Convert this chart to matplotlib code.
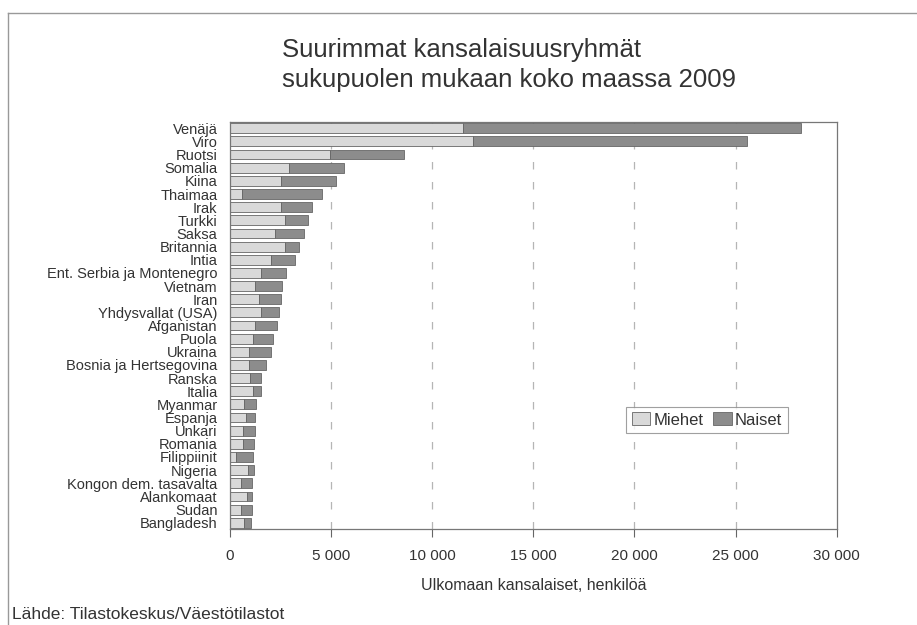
import matplotlib
matplotlib.use("Agg")
import matplotlib.pyplot as plt
from matplotlib.ticker import FuncFormatter

# Kansalaisuudet (ylhäältä alas)
maat = ["Venäjä", "Viro", "Ruotsi", "Somalia", "Kiina", "Thaimaa", "Irak",
        "Turkki", "Saksa", "Britannia", "Intia", "Ent. Serbia ja Montenegro",
        "Vietnam", "Iran", "Yhdysvallat (USA)", "Afganistan", "Puola",
        "Ukraina", "Bosnia ja Hertsegovina", "Ranska", "Italia", "Myanmar",
        "Espanja", "Unkari", "Romania", "Filippiinit", "Nigeria",
        "Kongon dem. tasavalta", "Alankomaat", "Sudan", "Bangladesh"]

miehet = [11500, 12000, 4950, 2940, 2520, 610, 2520, 2740, 2240, 2720, 2030,
          1520, 1240, 1450, 1520, 1250, 1140, 940, 920, 990, 1140, 680,
          810, 660, 660, 280, 890, 550, 840, 550, 710]

naiset = [16750, 13550, 3650, 2700, 2730, 3960, 1520, 1120, 1440, 680, 1190,
          1250, 1350, 1070, 890, 1060, 970, 1070, 860, 540, 380, 620,
          440, 560, 530, 880, 280, 560, 270, 560, 310]

xtikit = [0, 5000, 10000, 15000, 20000, 25000, 30000]

plt.rcParams["font.family"] = ["Liberation Sans", "DejaVu Sans"]
teksti = "#333333"

fig = plt.figure(figsize=(9.17, 6.25), dpi=100)
ax = fig.add_axes([0.2508, 0.1531, 0.6616, 0.6522])

y = list(range(len(maat)))
ax.barh(y, miehet, height=0.75, color="#d9d9d9", edgecolor="#666666",
        linewidth=0.6, label="Miehet")
ax.barh(y, naiset, left=miehet, height=0.75, color="#8c8c8c",
        edgecolor="#666666", linewidth=0.6, label="Naiset")

ax.set_xlim(0, 30000)
ax.set_ylim(len(maat) - 0.5, -0.5)
ax.set_yticks(y)
ax.set_yticklabels(maat, fontsize=10.5, color=teksti)
ax.tick_params(axis="y", length=0, pad=9)

ax.set_xticks(xtikit)
ax.xaxis.set_major_formatter(FuncFormatter(lambda v, p: f"{int(v):,}".replace(",", " ")))
ax.tick_params(axis="x", length=6, width=0.8, color="#666666", pad=8,
               labelsize=11, labelcolor=teksti)

for v in xtikit[1:-1]:
    ax.axvline(v, color="#b5b5b5", linestyle=(0, (6, 10)), linewidth=0.9, zorder=0)

for s in ax.spines.values():
    s.set_color("#777777")
    s.set_linewidth(0.9)

ax.set_xlabel("Ulkomaan kansalaiset, henkilöä", fontsize=11.5, color=teksti,
              labelpad=11)

leg = ax.legend(loc="center", bbox_to_anchor=(0.786, 0.268), ncol=2,
                fontsize=12, frameon=True, fancybox=False, handlelength=1.1,
                handleheight=0.8, handletextpad=0.2, columnspacing=0.6,
                borderpad=0.35, labelcolor=teksti)
leg.get_frame().set_edgecolor("#888888")
leg.get_frame().set_linewidth(0.8)

fig.text(0.3075, 0.94, "Suurimmat kansalaisuusryhmät", fontsize=18.5,
         color=teksti, va="top")
fig.text(0.3075, 0.892, "sukupuolen mukaan koko maassa 2009", fontsize=18.5,
         color=teksti, va="top")

fig.text(0.013, 0.01, "Lähde: Tilastokeskus/Väestötilastot", fontsize=12.5,
         color=teksti)

# Kehys ylä- ja vasemmassa reunassa
fig.add_artist(plt.Line2D([0.009, 1.0], [0.979, 0.979], color="#999999",
                          linewidth=1.0, transform=fig.transFigure))
fig.add_artist(plt.Line2D([0.009, 0.009], [0.0, 0.979], color="#999999",
                          linewidth=1.0, transform=fig.transFigure))

fig.savefig("out.png", dpi=100, facecolor="white")
